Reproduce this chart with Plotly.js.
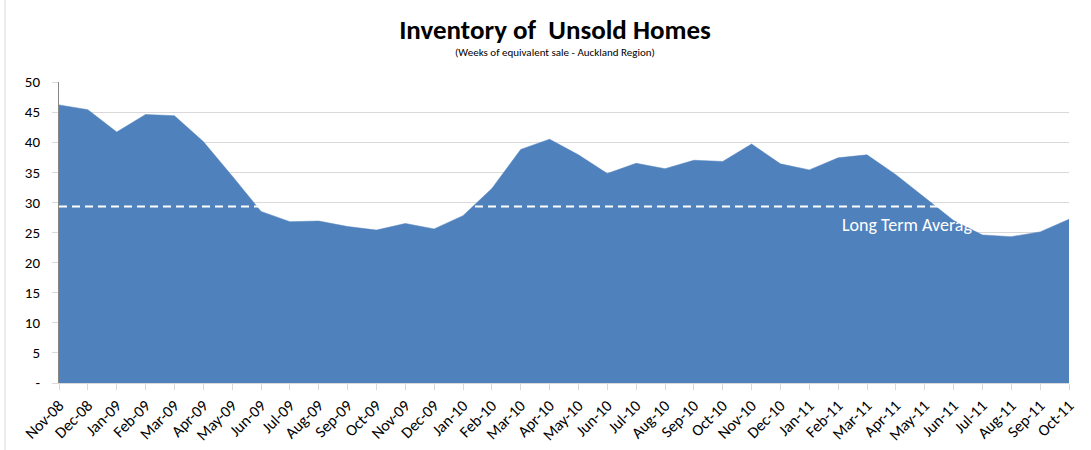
<!DOCTYPE html>
<html>
<head>
<meta charset="utf-8">
<script src="https://cdn.plot.ly/plotly-3.0.1.min.js"></script>
<style>html,body{margin:0;padding:0;background:#fff;}#chart{width:1091px;height:450px;}</style>
</head>
<body>
<div id="chart"></div>
<script>
const months = ["Nov-08","Dec-08","Jan-09","Feb-09","Mar-09","Apr-09","May-09","Jun-09","Jul-09","Aug-09","Sep-09","Oct-09","Nov-09","Dec-09","Jan-10","Feb-10","Mar-10","Apr-10","May-10","Jun-10","Jul-10","Aug-10","Sep-10","Oct-10","Nov-10","Dec-10","Jan-11","Feb-11","Mar-11","Apr-11","May-11","Jun-11","Jul-11","Aug-11","Sep-11","Oct-11"];
const inventoryWeeks = [46.2,45.4,41.7,44.6,44.4,40.1,34.4,28.5,26.8,26.9,26.0,25.4,26.5,25.6,27.8,32.3,38.8,40.5,37.9,34.8,36.5,35.6,37.0,36.8,39.7,36.4,35.4,37.4,37.9,34.6,30.8,27.0,24.6,24.3,25.1,27.2];
const longTermAverage = months.map(() => 29.3);
const yTickValues = [0,5,10,15,20,25,30,35,40,45,50];
const yTickLabels = ["-","5","10","15","20","25","30","35","40","45","50"];

const FONT = "Carlito, Lato, 'Open Sans', sans-serif";

const traces = [
  {
    x: months, y: inventoryWeeks, type: 'scatter', mode: 'lines',
    fill: 'tozeroy', fillcolor: '#4F81BD',
    line: {color: '#4F81BD', width: 0.5},
    hoverinfo: 'x+y', showlegend: false
  },
  {
    x: months, y: longTermAverage, type: 'scatter', mode: 'lines',
    line: {color: '#FFFFFF', width: 2, dash: '8px,5px'},
    hoverinfo: 'skip', showlegend: false
  }
];

const layout = {
  width: 1091, height: 450,
  margin: {l: 59, r: 22, t: 82, b: 67},
  paper_bgcolor: '#FFFFFF', plot_bgcolor: '#FFFFFF',
  font: {family: FONT, size: 14, color: '#000000'},
  title: {
    text: '<b>Inventory of  Unsold Homes</b>',
    font: {family: FONT, size: 27, color: '#000000'},
    xref: 'container', x: 555/1091, xanchor: 'center',
    yref: 'container', y: 1 - 30/450, yanchor: 'middle'
  },
  xaxis: {
    type: 'category',
    range: [0, months.length - 1],
    tickangle: -45,
    ticks: 'outside', ticklen: 6, tickcolor: '#D9D9D9', tickwidth: 1,
    showgrid: false, zeroline: false,
    showline: true, linecolor: '#D9D9D9', linewidth: 1,
    tickfont: {family: FONT, size: 16, color: '#000000'},
    fixedrange: true
  },
  yaxis: {
    range: [0, 50],
    tickvals: yTickValues, ticktext: yTickLabels,
    ticks: 'outside', ticklen: 6, tickcolor: '#D9D9D9', tickwidth: 1,
    showgrid: true, gridcolor: '#D9D9D9', gridwidth: 1,
    zeroline: false,
    showline: true, linecolor: '#868686', linewidth: 1,
    tickfont: {family: FONT, size: 15, color: '#000000'},
    ticklabelstandoff: 9,
    fixedrange: true
  },
  annotations: [
    {
      text: '(Weeks of equivalent sale - Auckland Region)',
      xref: 'paper', yref: 'paper',
      x: (555 - 59) / 1010, y: (383 - 53) / 301,
      xanchor: 'center', yanchor: 'middle', showarrow: false,
      font: {family: FONT, size: 11, color: '#000000'}
    },
    {
      text: 'Long Term Average',
      xref: 'x', yref: 'y',
      x: 'Feb-11', y: 26.2, xshift: 2,
      xanchor: 'left', yanchor: 'middle', showarrow: false,
      font: {family: FONT, size: 18, color: '#FFFFFF'}
    }
  ],
  shapes: [
    {type: 'line', xref: 'paper', yref: 'paper',
     x0: -54/1010, x1: -54/1010, y0: -0.3, y1: 1.3,
     line: {color: '#D9D9D9', width: 1}}
  ]
};

Plotly.newPlot('chart', traces, layout, {displayModeBar: false, staticPlot: true});
</script>
</body>
</html>
